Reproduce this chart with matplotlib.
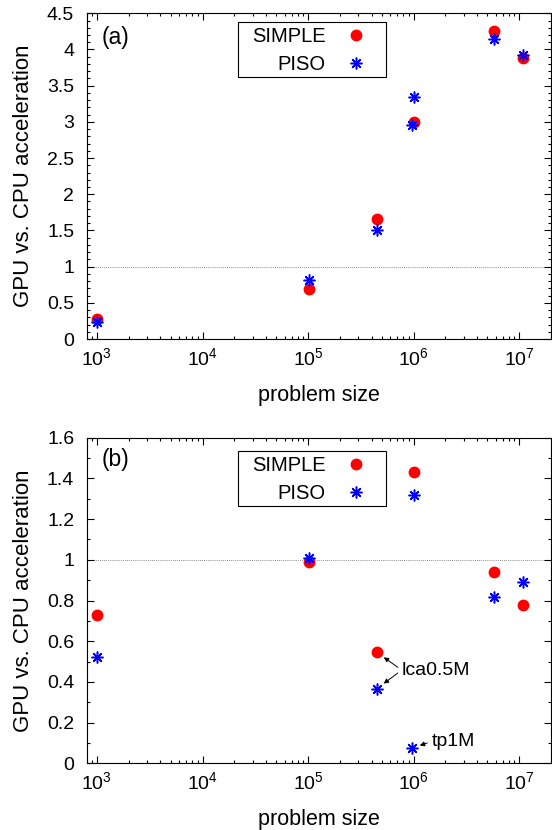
import matplotlib
matplotlib.use("Agg")
import matplotlib.pyplot as plt
from matplotlib.patches import Rectangle
from matplotlib.ticker import MultipleLocator, LogLocator, NullFormatter, FormatStrFormatter

plt.rcParams['font.family'] = ['Liberation Sans', 'DejaVu Sans']
plt.rcParams['mathtext.fontset'] = 'custom'
plt.rcParams['mathtext.rm'] = 'Liberation Sans'
plt.rcParams['mathtext.it'] = 'Liberation Sans'

# problem sizes (cells)
simple_x = [1e3, 1.02e5, 4.5e5, 1e6, 5.8e6, 1.08e7]
piso_x = [1e3, 1.02e5, 4.5e5, 1e6, 9.6e5, 5.8e6, 1.08e7]

# (a) acceleration
simple_a = [0.27, 0.69, 1.66, 3.0, 4.26, 3.88]
piso_a = [0.24, 0.81, 1.50, 3.34, 2.96, 4.15, 3.92]

# (b) acceleration
simple_b = [0.73, 0.99, 0.545, 1.43, 0.94, 0.78]
piso_b = [0.52, 1.01, 0.367, 1.32, 0.075, 0.815, 0.89]

panel_labels = ["(a)", "(b)"]
ylims = [(0, 4.5), (0, 1.6)]
ymajor = [0.5, 0.2]
yminor = [0.1, 0.1]

W, H = 552, 830
fig = plt.figure(figsize=(W / 100, H / 100), dpi=100)
boxes = [(86.7, 13.3, 551.0, 339.0), (86.7, 437.7, 551.0, 763.3)]
axes = []
for (l, t, r, b) in boxes:
    axes.append(fig.add_axes([l / W, 1 - b / H, (r - l) / W, (b - t) / H]))

asterisk = (8, 2, 0)
data = [(simple_a, piso_a), (simple_b, piso_b)]
label_y = [0.927, 0.934]
key_top = [0.957, 0.944]
legends = []
for i, ax in enumerate(axes):
    s_y, p_y = data[i]
    ax.axhline(1.0, color='#666666', lw=0.6, ls=(0, (1, 1.5)), zorder=1)
    ax.plot(simple_x, s_y, ls='none', marker='o', color='#ff0000', ms=7.5,
            mec='#ff0000', label='SIMPLE', zorder=3)
    ax.plot(piso_x, p_y, ls='none', marker=asterisk, color='#0000ff', ms=8.5,
            mew=1.1, label='PISO', zorder=4)
    ax.set_xscale('log')
    ax.set_xlim(800, 2e7)
    ax.set_ylim(*ylims[i])
    ax.yaxis.set_major_locator(MultipleLocator(ymajor[i]))
    ax.yaxis.set_minor_locator(MultipleLocator(yminor[i]))
    ax.yaxis.set_major_formatter(FormatStrFormatter('%g'))
    ax.xaxis.set_major_locator(LogLocator(base=10, numticks=10))
    ax.xaxis.set_minor_locator(LogLocator(base=10, subs=range(2, 10), numticks=20))
    ax.xaxis.set_minor_formatter(NullFormatter())
    ax.tick_params(which='both', direction='in', top=True, right=True,
                   labelsize=14, width=0.8)
    ax.tick_params(which='major', length=5)
    ax.tick_params(which='minor', length=2.5)
    ax.tick_params(axis='y', pad=9)
    ax.tick_params(axis='x', pad=6)
    for sp in ax.spines.values():
        sp.set_linewidth(0.8)
    ax.set_xlabel('problem size', fontsize=15.5)
    ax.xaxis.set_label_coords(0.5, -0.141)
    ax.set_ylabel('GPU vs. CPU acceleration', fontsize=16)
    ax.yaxis.set_label_coords(-0.113, 0.5)
    ax.text(0.032, label_y[i], panel_labels[i], transform=ax.transAxes,
            fontsize=16.5, ha='left', va='center')
    leg = ax.legend(loc='upper left', bbox_to_anchor=(0.356, key_top[i]),
                    borderaxespad=0, markerfirst=False, fontsize=14.5,
                    handlelength=1.6, handletextpad=0.7, borderpad=0,
                    labelspacing=0.45, fancybox=False, framealpha=1)
    leg.get_frame().set_visible(False)
    legends.append(leg)

axb = axes[1]
arrow = dict(arrowstyle='-|>', color='black', lw=0.7, mutation_scale=7,
             relpos=(0, 0.5), shrinkA=1, shrinkB=6)
axb.annotate('lca0.5M', xy=(simple_x[2], simple_b[2]), xytext=(7.7e5, 0.458),
             fontsize=14, va='center', ha='left', arrowprops=arrow)
axb.annotate('lca0.5M', xy=(piso_x[2], piso_b[2]), xytext=(7.7e5, 0.458),
             fontsize=14, va='center', ha='left', alpha=0, arrowprops=arrow)
axb.annotate('tp1M', xy=(piso_x[4], piso_b[4]), xytext=(1.47e6, 0.106),
             fontsize=14, va='center', ha='left', arrowprops=arrow)

# gnuplot-like key box: wider side padding than top/bottom
fig.canvas.draw()
for leg in legends:
    bb = leg.get_window_extent()
    dx, dtop, dbot = 14, 5, 3
    fig.add_artist(Rectangle(((bb.x0 - dx) / W, (bb.y0 - dbot) / H),
                             (bb.width + 2 * dx) / W, (bb.height + dtop + dbot) / H,
                             transform=fig.transFigure,
                             fill=False, ec='black', lw=0.8, zorder=5))

fig.savefig('out.png', dpi=100)
